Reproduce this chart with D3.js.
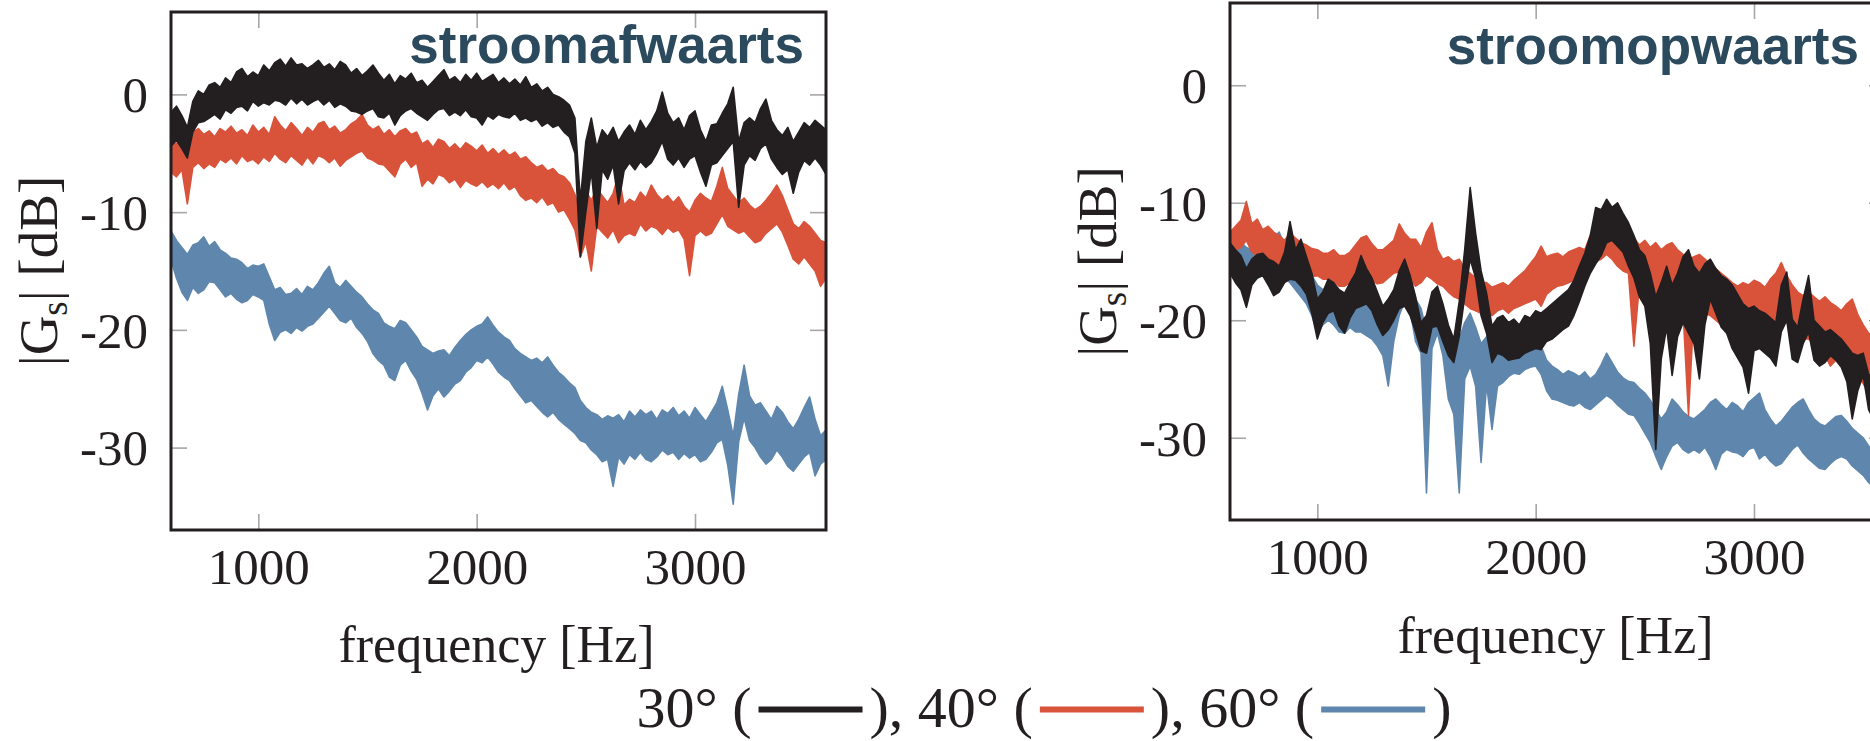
<!DOCTYPE html>
<html>
<head>
<meta charset="utf-8">
<script src="https://cdn.jsdelivr.net/npm/d3@7"></script>
<style>
  html, body { margin: 0; padding: 0; background: #fff; }
  svg { display: block; }
</style>
</head>
<body>
<svg id="chart" width="1870" height="741"></svg>
<script>
// Spectra are sampled every 25 Hz from 600 Hz; each series is stored as the
// upper and lower edge of its noisy trace (dB).
const freqStart = 600;
const freqStep = 25;

const xDomain = [600, 3600];
const yDomain = [-37, 7];
const xTicks = [1000, 2000, 3000];
const xTickLabels = ["1000", "2000", "3000"];
const yTicks = [0, -10, -20, -30];
const yTickLabels = ["0", "-10", "-20", "-30"];

const panelTitles = ["stroomafwaarts", "stroomopwaarts"];
const seriesNames = ["30°", "40°", "60°"];
const seriesColors = ["#231f20", "#d9533b", "#5f87ad"];

// ---- stroomafwaarts (600 … 3600 Hz) ----
const down30Hi = [
  -1.5, -1.0, -1.8, -2.8, -0.6, 0.3, 0.0, 0.8, 1.0, 0.6,
  1.4, 1.0, 1.9, 2.2, 1.5, 1.9, 1.6, 2.5, 2.0, 2.7,
  3.0, 2.4, 3.1, 2.5, 2.6, 2.2, 2.5, 2.9, 2.3, 2.6,
  2.1, 2.8, 2.5, 1.8, 2.2, 1.6, 2.0, 2.5, 1.8, 1.2,
  1.7, 0.9, 1.6, 1.3, 1.8, 1.0, 1.2, 0.6, 1.1, 1.6,
  2.1, 1.2, 1.5, 1.0, 1.7, 1.2, 1.8, 1.1, 1.4, 1.7,
  1.0, 1.4, 0.9, 1.3, 0.8, 1.5, 0.6, 0.9, 0.3, 0.6,
  0.0, -0.2, -0.5, -0.9, -2.0, -9.0, -4.0, -2.0, -4.5, -3.0,
  -3.6, -2.8, -4.0, -3.2, -2.6, -3.4, -2.2, -3.0, -2.3, -1.4,
  0.2, -1.6, -2.4, -2.0, -3.0, -1.8, -1.4, -3.0, -4.0, -2.6,
  -2.5, -1.6, -0.8, 0.6, -4.0, -2.4, -2.0, -2.4, -1.2, -0.4,
  -2.2, -3.0, -3.5, -2.8, -4.0, -3.2, -2.4, -2.8, -2.2, -2.6,
  -3.0
];
const down30Lo = [
  -4.4, -3.9, -4.6, -5.4, -3.2, -2.4, -2.3, -2.0, -1.7, -2.1,
  -1.3, -1.6, -1.1, -1.0, -1.4, -0.6, -1.0, -0.7, -0.9, -0.5,
  -0.6, -0.9, -0.3, -0.8, -0.4, -0.9, -0.6, -0.4, -0.9, -0.5,
  -1.1, -0.8, -1.0, -1.4, -1.5, -1.7, -1.4, -1.2, -1.9, -2.0,
  -1.6, -2.6, -1.8, -1.4, -1.2, -1.6, -1.9, -2.2, -1.7, -1.3,
  -1.2, -1.8, -1.5, -1.8, -1.3, -1.9, -2.0, -2.6, -1.8, -2.1,
  -1.7, -1.9, -2.0, -1.6, -2.2, -2.0, -2.3, -2.1, -2.7, -2.4,
  -2.8, -2.6, -3.2, -3.6, -5.0, -13.8, -10.0, -6.5, -11.4, -6.4,
  -7.2, -6.0, -9.3, -6.5, -5.8, -6.4, -5.7, -6.2, -5.8, -5.0,
  -4.0, -5.5, -6.0, -5.4, -6.2, -5.5, -5.2, -6.6, -7.8, -6.0,
  -5.8, -5.2, -4.6, -4.0, -9.6, -6.0, -5.2, -5.6, -4.6, -4.2,
  -5.5, -6.2, -6.8, -6.4, -8.4, -6.6, -5.6, -6.0, -5.4, -6.0,
  -6.8
];
const down40Hi = [
  -3.9, -4.2, -3.6, -4.3, -3.2, -2.9, -3.4, -3.1, -3.6, -2.9,
  -3.2, -2.7, -3.3, -3.0, -3.5, -2.6, -3.2, -2.8, -3.4, -1.9,
  -2.6, -3.1, -2.4, -2.9, -3.5, -2.8, -3.2, -2.5, -2.3, -3.0,
  -2.7, -3.3, -3.0, -2.5, -2.2, -1.7, -2.6, -3.0, -2.7, -3.4,
  -3.0, -3.6, -3.1, -2.9, -3.4, -3.2, -4.2, -3.9, -4.5, -3.8,
  -4.0, -4.6, -4.2, -4.7, -4.1, -4.4, -4.8, -4.3, -5.0, -4.6,
  -5.1, -4.7, -5.2, -4.9, -5.5, -5.3, -5.8, -6.2, -6.0, -6.5,
  -6.3, -6.8, -7.0, -7.5, -8.5, -10.0, -8.2, -9.0, -8.0, -8.6,
  -9.2, -8.4, -6.8, -9.4, -8.9, -9.2, -8.3, -8.8, -7.7, -8.5,
  -9.0, -8.6, -9.2, -8.7, -9.5, -10.0, -9.0, -8.4, -8.8, -9.1,
  -7.8, -6.2, -8.0, -8.6, -9.2, -8.8, -9.4, -9.8, -9.5, -9.0,
  -8.4, -7.7, -8.6, -9.8, -11.0, -11.4, -10.8, -11.2, -11.8, -12.4,
  -12.6
];
const down40Lo = [
  -6.6, -7.0, -6.4, -9.3, -6.2, -5.8, -6.3, -5.9, -6.2, -5.5,
  -5.8, -5.4, -5.9, -5.2, -5.7, -5.5, -5.9, -5.3, -5.7, -5.0,
  -5.5, -5.8, -5.2, -5.6, -6.0, -5.3, -5.9, -5.2, -5.4, -5.8,
  -5.4, -6.1, -5.6, -5.3, -5.0, -4.8, -5.4, -5.6, -5.9, -6.0,
  -6.5, -7.0, -5.9, -5.5, -6.2, -5.8, -7.8, -7.2, -7.6, -6.8,
  -7.0, -7.5, -7.2, -7.9, -7.3, -7.6, -7.8, -7.4, -7.9, -7.6,
  -8.0, -7.5, -8.1, -7.8, -8.6, -9.0, -8.8, -9.2, -8.7, -9.4,
  -9.2, -10.0, -9.8, -10.6, -11.5, -13.8, -12.5, -15.0, -11.2, -11.7,
  -12.2, -11.5, -12.6, -12.0, -11.8, -12.0, -11.0, -11.6, -11.2, -11.4,
  -11.9, -11.3, -11.7, -11.5, -12.3, -15.4, -12.0, -11.6, -12.0, -11.8,
  -11.0, -10.2, -11.2, -11.5, -11.8, -11.6, -12.1, -12.6, -12.4, -11.8,
  -11.4, -11.0, -11.7, -12.8, -14.0, -14.4, -13.8, -14.4, -15.0, -16.3,
  -15.6
];
const down60Hi = [
  -11.6, -12.4, -13.0, -13.6, -12.8, -12.6, -12.1, -12.9, -12.5, -13.2,
  -13.5, -13.9, -14.0, -14.3, -14.8, -14.5, -14.6, -14.4, -15.5, -16.6,
  -16.4, -17.0, -16.9, -16.5, -17.0, -16.3, -16.6, -16.0, -15.2, -14.6,
  -16.0, -16.4, -15.8, -16.3, -16.8, -17.2, -17.8, -18.3, -18.6, -19.4,
  -19.7, -19.9, -19.2, -19.4, -20.0, -20.6, -21.4, -21.7, -22.0, -21.8,
  -21.7, -22.2, -21.5, -20.9, -20.4, -20.0, -19.7, -19.5, -18.9, -19.6,
  -20.2, -20.6, -20.9, -21.6, -22.0, -22.3, -22.6, -22.4, -22.8, -22.3,
  -23.0, -23.6, -24.0, -24.5, -24.9, -26.0, -26.6, -27.0, -27.2, -27.6,
  -27.3, -27.5, -27.2, -27.8, -26.9, -27.4, -26.8, -27.2, -26.9, -27.6,
  -26.8, -27.1, -26.6, -27.3, -26.9, -27.5, -26.6, -27.2, -27.8, -27.0,
  -26.2, -24.8, -26.8, -29.0, -25.5, -23.0, -25.6, -26.4, -26.2, -26.9,
  -27.6, -26.5, -27.0, -27.8, -28.4, -27.6, -26.6, -25.7, -27.6, -29.0,
  -28.5
];
const down60Lo = [
  -14.1, -15.6, -16.8, -17.5, -16.4, -16.9, -16.6, -15.9, -16.0, -16.6,
  -17.2, -16.9, -17.4, -17.7, -17.5, -17.0, -17.2, -17.5, -19.5, -20.9,
  -20.2, -20.0, -20.3, -19.8, -20.1, -19.7, -19.5, -19.0, -18.5, -18.0,
  -18.6, -19.2, -19.4, -19.0, -19.8, -20.3, -21.0, -22.0, -22.6, -23.0,
  -24.0, -24.3, -23.0, -22.6, -23.5, -24.2, -25.4, -26.8, -25.6, -25.0,
  -25.7, -25.2, -24.6, -24.3, -23.6, -23.2, -22.6, -22.8, -22.3, -22.9,
  -23.6, -24.0, -24.3, -25.0, -25.6, -26.2, -26.0, -26.5, -27.0, -27.4,
  -27.0, -27.6, -28.0, -28.4, -28.8, -29.4, -29.6, -30.2, -30.6, -31.2,
  -31.0, -33.3, -30.8, -31.4, -30.6, -31.0, -30.4, -31.0, -31.2, -30.8,
  -30.2, -30.6, -30.4, -31.0, -30.5, -30.9, -30.6, -31.2, -31.0, -30.4,
  -29.6, -29.3, -31.5, -34.8, -29.5, -27.5, -29.4, -30.0, -30.8, -31.4,
  -31.0, -30.2, -30.8, -31.6, -32.0, -31.4, -30.8, -30.4, -32.4, -31.4,
  -31.0
];

// ---- stroomopwaarts (600 … 3550 Hz) ----
const up30Hi = [
  -13.4, -14.0, -14.5, -15.6, -14.8, -14.4, -14.3, -14.8, -15.0, -15.4,
  -14.2, -11.6, -14.0, -13.1, -14.6, -16.0, -18.2, -17.6, -16.5, -16.8,
  -17.4, -17.7, -16.8, -16.0, -14.5, -15.6, -16.4, -17.6, -18.8, -18.2,
  -17.4, -15.8, -14.8, -16.2, -18.0, -20.2, -19.6, -17.6, -17.1, -18.6,
  -20.4, -21.6, -18.4, -14.0, -8.7, -12.6, -15.8, -17.7, -20.5, -19.8,
  -19.6, -20.2, -19.9, -20.4, -19.6, -19.8, -19.2, -19.4, -19.0, -18.6,
  -18.2, -17.8, -17.4, -16.6, -15.4, -14.3, -12.8, -10.4, -10.6, -9.7,
  -10.4, -10.0, -10.9, -11.7, -12.8, -14.0, -14.5, -16.0, -18.0, -16.8,
  -15.4, -17.0, -16.0, -14.6, -14.0, -15.4, -16.0, -15.2, -14.8, -15.6,
  -16.2, -16.5, -17.0, -17.8, -18.6, -19.0, -18.8, -19.2, -19.4, -19.8,
  -20.2, -17.0, -15.9, -19.9, -20.6, -18.2, -16.2, -20.0, -20.5, -21.0,
  -20.8, -21.2, -21.6, -22.2, -22.8, -23.0, -22.8, -24.6, -25.0
];
const up30Lo = [
  -16.0, -16.8, -17.4, -18.9, -17.0, -16.4, -16.2, -17.0, -17.9, -17.6,
  -16.8, -16.5, -16.6, -17.1, -17.8, -19.4, -21.6, -20.2, -19.4, -19.2,
  -20.5, -21.1, -19.8, -19.0, -18.8, -18.6, -19.2, -20.4, -21.3, -20.8,
  -20.0, -19.0, -18.8, -19.6, -21.0, -22.6, -22.8, -20.6, -20.5, -21.8,
  -23.0, -23.6, -21.4, -18.0, -14.8, -16.4, -19.6, -21.1, -23.6, -22.8,
  -23.0, -23.4, -23.3, -23.2, -22.8, -22.6, -22.4, -22.5, -21.8, -21.6,
  -21.2, -20.8, -20.5, -19.6, -18.4, -17.1, -16.0, -15.2, -14.5, -13.4,
  -13.2, -13.7, -14.2, -15.4, -16.4, -18.0, -18.8, -22.0, -31.0, -23.3,
  -20.6, -24.7, -21.4, -20.2, -21.1, -22.0, -25.0, -20.4, -18.2, -19.4,
  -20.6, -21.1, -22.4, -23.2, -24.0, -26.2, -22.6, -22.4, -22.8, -23.2,
  -23.9, -21.0, -20.0, -23.3, -23.6, -22.0, -21.0, -23.4, -23.9, -23.6,
  -23.0, -23.4, -24.0, -25.2, -28.4, -26.0, -24.7, -27.6, -28.5
];
const up40Hi = [
  -12.5, -12.0, -11.5, -9.9, -11.8, -11.4, -12.3, -12.0, -12.5, -12.8,
  -13.2, -12.6, -13.0, -13.4, -13.6, -13.9, -14.0, -14.3, -14.3, -14.0,
  -14.5, -14.5, -14.2, -13.6, -13.0, -12.8, -13.5, -14.0, -14.0, -13.6,
  -13.2, -11.8, -12.6, -13.1, -13.1, -13.8, -12.5, -11.7, -14.0, -14.8,
  -14.6, -15.0, -14.8, -15.6, -16.0, -16.4, -16.8, -16.8, -17.2, -17.0,
  -16.8, -17.1, -16.6, -16.2, -15.8, -15.2, -14.6, -13.7, -14.6, -14.4,
  -14.3, -14.6, -14.2, -14.0, -13.8, -14.0, -12.8, -11.6, -10.6, -11.0,
  -11.6, -12.0, -12.4, -12.8, -13.0, -13.6, -13.2, -13.8, -13.4, -14.0,
  -13.6, -13.4, -14.0, -14.4, -14.8, -14.6, -14.4, -14.8, -15.2, -15.6,
  -16.0, -16.4, -16.8, -17.1, -16.8, -17.0, -16.6, -16.8, -17.2, -16.5,
  -16.0, -15.1, -16.2, -17.0, -17.6, -17.9, -17.6, -18.0, -18.4, -18.0,
  -18.5, -18.8, -19.2, -18.6, -18.2, -19.5, -20.4, -21.1, -21.5
];
const up40Lo = [
  -14.5, -14.0, -13.8, -13.2, -14.2, -14.5, -14.8, -15.0, -15.4, -15.2,
  -15.6, -15.0, -15.5, -15.9, -16.0, -16.3, -16.2, -16.5, -16.5, -16.7,
  -17.1, -17.1, -16.8, -16.4, -16.2, -16.5, -16.6, -16.9, -16.8, -16.4,
  -16.0, -15.9, -15.6, -16.5, -17.1, -16.8, -16.2, -16.5, -16.9, -17.1,
  -17.6, -18.0, -18.2, -18.6, -19.0, -19.2, -19.4, -19.4, -19.6, -19.2,
  -19.0, -19.4, -19.0, -18.8, -18.6, -18.4, -18.2, -18.8, -17.8, -17.4,
  -17.1, -17.0, -16.8, -16.6, -16.2, -16.5, -15.6, -15.0, -14.8, -14.4,
  -14.8, -15.4, -15.8, -16.0, -22.2, -17.0, -17.6, -18.0, -18.2, -18.6,
  -18.8, -19.4, -19.0, -19.2, -28.1, -19.0, -19.2, -19.4, -19.6, -20.0,
  -20.4, -20.6, -20.8, -21.1, -20.8, -21.0, -20.6, -20.8, -20.9, -20.4,
  -20.0, -19.6, -20.2, -21.0, -21.4, -21.6, -21.6, -22.0, -22.6, -23.0,
  -23.9, -23.4, -23.0, -23.2, -23.6, -24.4, -25.4, -26.2, -26.4
];
const up60Hi = [
  -12.6, -13.0, -13.4, -13.8, -14.0, -13.6, -13.8, -13.2, -13.0, -12.5,
  -13.6, -14.0, -14.6, -15.2, -15.8, -16.2, -17.0, -17.4, -17.2, -17.6,
  -18.0, -18.2, -17.8, -18.4, -18.0, -18.2, -18.6, -19.2, -19.4, -20.0,
  -18.6, -16.4, -15.4, -16.2, -18.2, -19.0, -21.0, -18.8, -17.7, -19.0,
  -21.1, -22.0, -21.6, -20.2, -19.4, -20.6, -22.0, -21.4, -22.0, -22.6,
  -23.0, -22.4, -22.2, -22.4, -22.0, -21.8, -21.9, -22.2, -23.4, -23.9,
  -24.2, -24.6, -24.3, -24.5, -24.8, -24.4, -25.0, -24.6, -23.8, -22.8,
  -23.6, -24.4, -24.9, -25.2, -25.3, -25.8, -26.2, -26.8, -27.6, -28.4,
  -27.8, -26.7, -27.2, -27.8, -28.2, -28.4, -28.0, -27.6, -27.0, -26.7,
  -27.2, -27.6, -27.0, -27.3, -27.8, -27.0, -26.6, -26.2, -27.6, -28.4,
  -29.0, -28.6, -28.0, -27.4, -27.0, -26.7, -27.6, -28.4, -28.8, -29.0,
  -28.6, -28.2, -28.1, -28.6, -29.2, -29.6, -30.0, -30.7, -31.0
];
const up60Lo = [
  -15.8, -16.2, -16.4, -16.8, -16.6, -16.4, -16.2, -15.8, -16.0, -15.6,
  -16.4, -16.8, -17.4, -18.0, -18.6, -19.6, -21.1, -20.4, -20.0, -20.4,
  -21.0, -21.1, -20.6, -21.0, -21.0, -21.3, -21.6, -22.2, -23.0, -25.6,
  -21.8, -19.6, -18.4, -19.2, -21.8, -22.8, -34.7, -22.4, -21.1, -23.0,
  -26.7, -28.0, -34.7, -25.0, -23.9, -25.6, -32.1, -25.4, -29.3, -25.6,
  -25.3, -24.8, -24.5, -24.6, -24.2, -24.0, -23.9, -24.6, -26.0, -26.7,
  -26.8, -27.0, -27.2, -27.3, -27.0, -27.4, -27.6, -27.2, -26.8, -26.4,
  -26.7, -27.2, -27.6, -28.0, -28.1, -28.8, -29.6, -30.4, -31.6, -32.7,
  -31.6, -30.7, -30.4, -31.0, -31.3, -31.0, -31.3, -30.8, -31.6, -32.7,
  -31.4, -31.0, -31.2, -31.3, -31.6, -31.0, -30.8, -31.8, -31.4, -32.0,
  -32.4, -32.2, -31.6, -31.0, -30.6, -31.3, -31.8, -32.2, -32.6, -32.7,
  -32.2, -31.8, -31.6, -31.8, -32.4, -32.8, -33.2, -33.8, -34.2
];

// Panel layout
const panels = [
  {
    title: panelTitles[0], left: 171, right: 826, top: 12, bottom: 530,
    titleX: 804, titleY: 63, yTitleX: 57, xTitleY: 662,
    series: [
      { hi: down60Hi, lo: down60Lo, color: seriesColors[2] },
      { hi: down40Hi, lo: down40Lo, color: seriesColors[1] },
      { hi: down30Hi, lo: down30Lo, color: seriesColors[0] }
    ]
  },
  {
    title: panelTitles[1], left: 1230, right: 1885, top: 3, bottom: 520,
    titleX: 1859, titleY: 64, yTitleX: 1116, xTitleY: 653,
    series: [
      { hi: up60Hi, lo: up60Lo, color: seriesColors[2] },
      { hi: up40Hi, lo: up40Lo, color: seriesColors[1] },
      { hi: up30Hi, lo: up30Lo, color: seriesColors[0] }
    ]
  }
];

const serif = "'Liberation Serif', 'Times New Roman', serif";
const sans = "'Liberation Sans', Arial, sans-serif";
const ink = "#231f20";
const tickGray = "#a6a6a6";
const tickLen = 16;
const labelSize = 51;

const svg = d3.select("#chart");
const defs = svg.append("defs");

panels.forEach((p, pi) => {
  const x = d3.scaleLinear().domain(xDomain).range([p.left, p.right]);
  const y = d3.scaleLinear().domain(yDomain).range([p.bottom, p.top]);
  const g = svg.append("g");

  const clipId = "plot-clip-" + pi;
  defs.append("clipPath").attr("id", clipId)
    .append("rect")
    .attr("x", p.left).attr("y", p.top)
    .attr("width", p.right - p.left).attr("height", p.bottom - p.top);

  // inward ticks on all four sides
  const tickAxes = [
    { axis: d3.axisBottom(x).tickValues(xTicks), tr: `translate(0,${p.bottom})` },
    { axis: d3.axisTop(x).tickValues(xTicks), tr: `translate(0,${p.top})` },
    { axis: d3.axisLeft(y).tickValues(yTicks), tr: `translate(${p.left},0)` },
    { axis: d3.axisRight(y).tickValues(yTicks), tr: `translate(${p.right},0)` }
  ];
  tickAxes.forEach(t => {
    const a = g.append("g").attr("transform", t.tr)
      .call(t.axis.tickSizeInner(-tickLen).tickSizeOuter(0).tickFormat(""));
    a.select(".domain").remove();
    a.selectAll("line").attr("stroke", tickGray).attr("stroke-width", 1.6);
  });

  // spectra
  const plot = g.append("g").attr("clip-path", `url(#${clipId})`);
  p.series.forEach(s => {
    const rows = s.hi.map((h, i) => ({ f: freqStart + i * freqStep, hi: h, lo: s.lo[i] }));
    const band = d3.area()
      .x(d => x(d.f))
      .y0(d => y(d.lo))
      .y1(d => y(d.hi));
    plot.append("path")
      .datum(rows)
      .attr("d", band)
      .attr("fill", s.color)
      .attr("stroke", s.color)
      .attr("stroke-width", 1.6)
      .attr("stroke-linejoin", "round");
  });

  // frame
  g.append("rect")
    .attr("x", p.left).attr("y", p.top)
    .attr("width", p.right - p.left).attr("height", p.bottom - p.top)
    .attr("fill", "none").attr("stroke", ink).attr("stroke-width", 3);

  // tick labels
  const xLab = g.append("g").attr("transform", `translate(0,${p.bottom})`)
    .call(d3.axisBottom(x).tickValues(xTicks).tickSize(0)
      .tickFormat((d, i) => xTickLabels[i]));
  xLab.select(".domain").remove();
  xLab.selectAll("text")
    .attr("y", 54).attr("dy", null)
    .attr("fill", ink)
    .style("font-family", serif).style("font-size", labelSize + "px");

  const yLab = g.append("g").attr("transform", `translate(${p.left},0)`)
    .call(d3.axisLeft(y).tickValues(yTicks).tickSize(0).tickPadding(23)
      .tickFormat((d, i) => yTickLabels[i]));
  yLab.select(".domain").remove();
  yLab.selectAll("text")
    .attr("dy", "0.34em")
    .attr("fill", ink)
    .style("font-family", serif).style("font-size", labelSize + "px");

  // axis titles
  const yTitle = g.append("text")
    .attr("transform", `translate(${p.yTitleX},${(p.top + p.bottom) / 2}) rotate(-90)`)
    .attr("text-anchor", "middle")
    .attr("fill", ink)
    .style("font-family", serif).style("font-size", "55px");
  yTitle.append("tspan").text("|G");
  yTitle.append("tspan").attr("dy", 10).style("font-size", "37px").text("s");
  yTitle.append("tspan").attr("dy", -10).text("| [dB]");

  g.append("text")
    .attr("x", (p.left + p.right) / 2 - 2).attr("y", p.xTitleY)
    .attr("text-anchor", "middle")
    .attr("fill", ink)
    .style("font-family", serif).style("font-size", "52px")
    .text("frequency [Hz]");

  // panel title
  g.append("text")
    .attr("x", p.titleX).attr("y", p.titleY)
    .attr("text-anchor", "end")
    .attr("fill", "#2c4a5d")
    .style("font-family", sans).style("font-weight", "bold").style("font-size", "53px")
    .text(p.title);
});

// legend: 30° (—), 40° (—), 60° (—)
const legendSize = 58;
const legendBaseline = 727;
const legendCenter = 1044;
const sampleLen = 104;
const sampleGap = 7;
const leg = svg.append("g");
const pieces = [];
seriesNames.forEach((name, i) => {
  pieces.push({ text: (i === 0 ? "" : "), ") + name + " (" });
  pieces.push({ line: seriesColors[i] });
});
pieces.push({ text: ")" });

let cursor = 0;
pieces.forEach(pc => {
  if (pc.text !== undefined) {
    const t = leg.append("text")
      .attr("x", cursor).attr("y", legendBaseline)
      .attr("fill", ink)
      .style("font-family", serif).style("font-size", legendSize + "px")
      .style("white-space", "pre")
      .text(pc.text);
    cursor += t.node().getComputedTextLength();
  } else {
    cursor += sampleGap;
    leg.append("line")
      .attr("x1", cursor).attr("x2", cursor + sampleLen)
      .attr("y1", legendBaseline - 0.3 * legendSize)
      .attr("y2", legendBaseline - 0.3 * legendSize)
      .attr("stroke", pc.line).attr("stroke-width", 6);
    cursor += sampleLen + sampleGap;
  }
});
leg.attr("transform", `translate(${legendCenter - cursor / 2},0)`);
</script>
</body>
</html>
